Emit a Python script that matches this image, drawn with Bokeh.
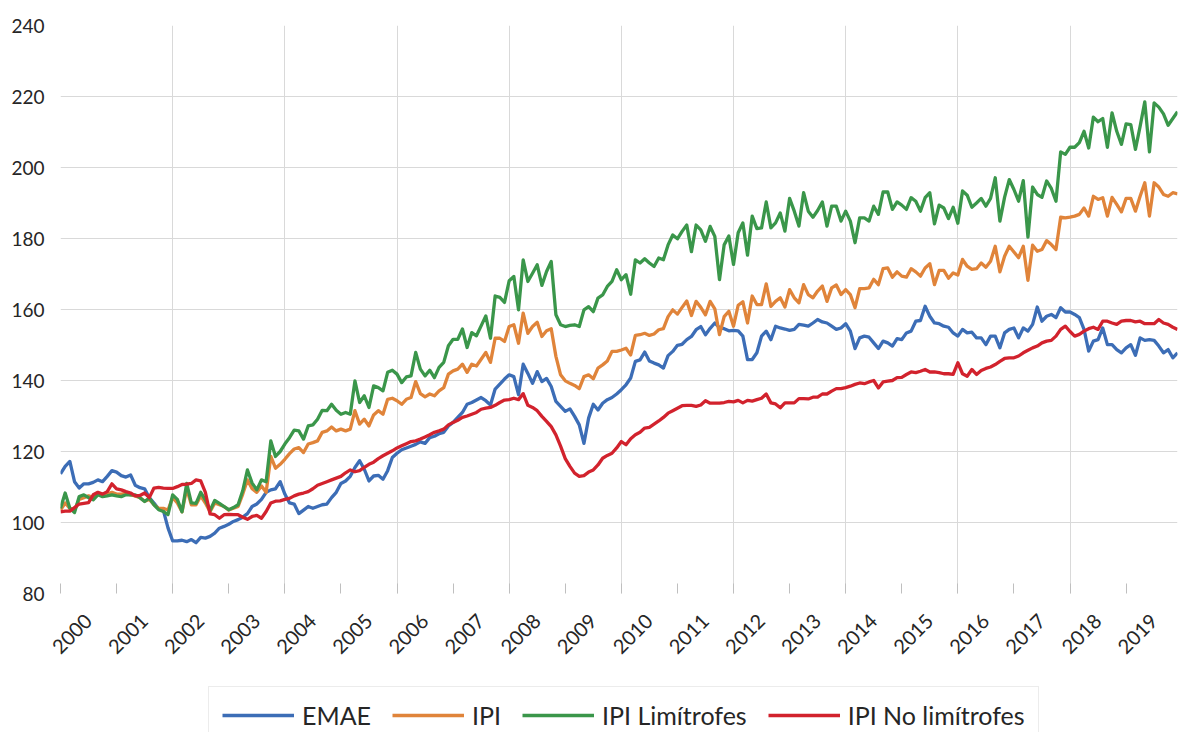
from bokeh.plotting import figure
from bokeh.layouts import column
from bokeh.models import Range1d, FixedTicker, Legend, LegendItem, ColumnDataSource, CustomJSTickFormatter
from bokeh.embed import file_html
from bokeh.resources import INLINE

# ---------------- data (monthly, Jan 2000 - Dec 2019) ----------------
years = list(range(2000, 2020))
series_names = ["EMAE", "IPI", "IPI Limítrofes", "IPI No limítrofes"]

emae = [
    113.7, 115.8, 117.2, 111.5, 109.7, 110.9, 110.9, 111.3, 112.0, 111.5, 113.0, 114.6,
    114.2, 113.2, 112.8, 113.4, 110.5, 109.8, 109.5, 107.0, 105.5, 103.8, 103.4, 98.5,
    94.8, 94.8, 95.0, 94.6, 95.2, 94.3, 95.8, 95.6, 96.1, 97.0, 98.4, 98.9,
    99.5, 100.3, 100.8, 101.5, 102.5, 104.5, 105.2, 106.5, 108.5, 109.2, 109.5, 111.5,
    108.0, 105.5, 105.2, 102.5, 103.5, 104.5, 104.0, 104.5, 105.0, 105.2, 107.0, 108.5,
    111.0, 111.7, 113.0, 115.5, 117.4, 115.0, 111.7, 113.1, 113.3, 112.2, 114.6, 118.3,
    119.5, 120.5, 121.0, 121.5, 122.0, 122.7, 122.3, 123.9, 124.3, 125.0, 125.4, 127.2,
    128.2, 129.6, 131.0, 133.3, 133.8, 134.5, 135.2, 134.3, 133.1, 137.6, 139.0, 140.4,
    141.6, 141.1, 136.0, 144.6, 142.0, 139.2, 142.5, 139.7, 140.6, 138.3, 134.1, 132.7,
    131.3, 132.0, 129.9, 127.5, 122.3, 129.4, 133.3, 131.7, 133.6, 134.6, 135.2, 136.2,
    137.4, 138.8, 140.7, 145.4, 145.8, 148.0, 145.5, 144.9, 144.4, 143.5, 147.0, 148.2,
    149.9, 150.2, 151.5, 152.4, 154.3, 155.2, 152.9, 154.7, 156.2, 154.9, 154.6, 154.0,
    154.1, 154.0, 152.5, 145.9, 145.9, 147.8, 152.5, 153.9, 151.5, 155.3, 154.8, 154.5,
    154.1, 154.4, 155.8, 155.6, 155.3, 156.2, 157.2, 156.5, 156.2, 155.3, 154.4, 154.8,
    156.0, 153.9, 149.0, 152.0, 152.5, 152.2, 150.6, 149.0, 151.1, 150.6, 149.7, 151.8,
    151.5, 153.4, 153.9, 156.7, 156.9, 160.9, 158.1, 156.2, 156.0, 155.3, 155.0, 153.4,
    152.5, 154.4, 153.4, 153.6, 152.0, 152.0, 150.1, 152.5, 152.5, 149.2, 153.4, 154.4,
    154.8, 152.0, 154.8, 153.9, 155.8, 160.7, 156.7, 158.1, 158.6, 157.7, 160.5, 159.3,
    159.3, 158.6, 157.7, 154.4, 148.3, 151.1, 151.5, 154.8, 150.1, 150.1, 148.7, 147.8,
    149.2, 150.1, 147.1, 152.0, 151.3, 151.5, 151.3, 149.7, 147.8, 148.7, 146.4, 147.8,
]

ipi = [
    103.5, 105.5, 104.0, 103.5, 106.5, 107.0, 107.5, 107.0, 108.0, 107.8, 108.0, 108.5,
    108.0, 108.0, 108.2, 107.8, 107.5, 107.0, 106.0, 106.5, 105.0, 104.0, 104.0, 103.5,
    107.0, 105.5, 103.0, 109.5, 105.0, 105.0, 107.5, 105.5, 103.0, 105.5, 105.0, 104.5,
    103.5, 104.0, 104.5, 108.0, 112.0, 109.5, 108.5, 110.3, 108.5, 118.6, 115.3, 116.4,
    117.8, 119.4, 120.7, 121.1, 119.7, 122.1, 122.5, 123.0, 125.4, 125.8, 126.9, 125.8,
    126.3, 125.8, 126.3, 131.5, 127.7, 129.1, 127.2, 130.3, 131.5, 130.5, 134.7, 135.0,
    134.3, 133.3, 134.7, 135.2, 139.7, 136.3, 135.4, 136.2, 135.7, 137.1, 138.0, 141.8,
    142.7, 143.2, 144.6, 142.3, 144.6, 144.1, 146.0, 147.9, 145.1, 151.9, 151.9, 151.0,
    155.2, 155.7, 150.5, 159.0, 153.3, 155.2, 156.4, 152.4, 154.0, 154.6, 146.8, 141.6,
    139.9, 139.2, 138.6, 137.7, 141.1, 141.6, 140.5, 143.5, 144.4, 145.5, 148.2, 148.2,
    148.6, 149.1, 147.2, 152.7, 152.9, 153.3, 152.7, 153.1, 154.3, 154.6, 158.0, 159.9,
    158.7, 160.6, 162.4, 158.3, 162.3, 160.6, 158.5, 162.3, 160.2, 152.9, 158.0, 159.5,
    155.3, 161.2, 162.2, 156.2, 163.8, 161.4, 161.4, 167.2, 160.9, 162.3, 163.3, 160.7,
    165.6, 163.3, 161.9, 167.0, 164.2, 163.3, 165.2, 166.6, 162.3, 166.1, 166.9, 164.2,
    165.6, 164.2, 160.5, 165.9, 165.9, 166.1, 168.5, 167.0, 171.5, 171.7, 169.1, 170.6,
    169.4, 169.1, 171.5, 170.6, 169.4, 171.7, 172.9, 167.0, 171.0, 171.0, 168.8, 170.3,
    169.7, 174.1, 172.2, 171.3, 171.5, 173.1, 171.9, 173.6, 177.8, 170.6, 175.0, 177.8,
    176.2, 174.6, 177.8, 168.2, 178.1, 176.4, 176.9, 179.4, 178.3, 176.9, 186.0, 185.8,
    186.0, 186.3, 186.8, 188.6, 186.3, 191.9, 191.0, 191.5, 186.3, 191.6, 189.6, 187.5,
    191.3, 191.3, 187.7, 191.9, 195.7, 186.3, 195.7, 194.5, 192.4, 191.9, 192.9, 192.6,
]

ipi_limitrofes = [
    104.0, 108.3, 104.0, 102.8, 107.3, 107.8, 107.0, 106.4, 107.8, 107.3, 107.5, 107.8,
    107.5, 107.3, 107.8, 107.8, 107.8, 107.0, 105.9, 106.9, 105.0, 103.6, 103.1, 102.2,
    107.8, 106.5, 103.0, 111.0, 105.5, 105.4, 108.5, 106.4, 103.4, 106.2, 105.4, 104.5,
    103.6, 104.2, 105.0, 109.0, 114.8, 111.1, 109.2, 112.0, 111.5, 123.0, 118.6, 120.0,
    122.1, 123.9, 126.0, 125.8, 123.5, 127.2, 127.5, 129.1, 131.6, 131.5, 133.3, 131.6,
    130.5, 131.0, 130.5, 139.9, 133.8, 135.7, 132.4, 138.5, 138.0, 137.1, 142.3, 142.9,
    141.8, 139.4, 141.0, 141.3, 147.9, 143.2, 141.3, 142.9, 140.8, 143.7, 145.1, 149.8,
    151.6, 151.6, 154.5, 149.3, 153.5, 152.6, 155.4, 158.2, 151.9, 163.8, 163.4, 162.0,
    168.1, 169.3, 159.9, 174.0, 167.9, 170.2, 172.6, 166.8, 170.7, 173.5, 158.5, 155.7,
    155.2, 155.5, 155.7, 155.2, 159.9, 160.8, 159.4, 163.2, 164.1, 166.5, 167.9, 171.2,
    168.4, 169.8, 164.3, 174.0, 173.1, 174.3, 173.1, 172.1, 174.5, 174.0, 178.2, 181.0,
    179.9, 182.0, 183.8, 176.3, 183.8, 182.4, 179.2, 183.4, 180.6, 168.4, 178.2, 180.7,
    172.7, 181.6, 184.4, 175.3, 186.3, 182.8, 183.0, 190.3, 183.0, 184.4, 187.2, 182.1,
    191.3, 187.7, 183.5, 192.9, 187.7, 186.0, 187.9, 190.3, 183.5, 189.1, 189.1, 184.9,
    187.7, 184.9, 178.8, 185.8, 185.8, 184.9, 189.1, 186.8, 193.1, 193.1, 188.2, 190.3,
    189.4, 188.2, 191.5, 190.5, 187.7, 191.5, 192.9, 184.1, 189.4, 188.6, 185.6, 188.8,
    184.3, 193.4, 192.2, 188.8, 190.0, 191.3, 189.1, 191.3, 197.1, 184.9, 191.6, 196.6,
    193.8, 190.5, 196.3, 180.4, 194.5, 192.4, 191.6, 196.2, 194.1, 190.5, 204.4, 203.7,
    205.7, 205.7, 207.0, 210.2, 205.5, 214.2, 212.9, 213.8, 205.7, 215.4, 210.2, 206.5,
    212.3, 212.1, 205.1, 211.6, 218.5, 204.4, 218.2, 217.0, 215.1, 211.9, 213.8, 215.7,
]

ipi_no_limitrofes = [
    103.0, 103.2, 103.2, 104.2, 105.2, 105.4, 105.6, 107.8, 108.5, 108.0, 108.7, 110.9,
    109.5, 109.2, 108.7, 108.3, 107.5, 107.6, 108.3, 107.0, 109.7, 109.9, 109.7, 109.6,
    109.6, 110.1, 110.7, 110.8, 111.0, 112.0, 111.7, 108.5, 102.4, 102.2, 101.2, 102.2,
    102.3, 102.2, 102.2, 101.5, 100.9, 101.7, 102.0, 101.2, 103.1, 105.5, 106.0, 106.1,
    106.5, 106.8, 107.5, 108.0, 108.3, 108.7, 109.5, 110.5, 111.0, 111.5, 112.0, 112.5,
    113.0, 114.0, 114.8, 114.3, 114.6, 115.5, 116.4, 117.0, 118.0, 118.8, 119.5, 120.2,
    121.0, 121.6, 122.2, 122.8, 123.0, 123.5, 124.1, 124.7, 125.4, 125.8, 126.3, 127.5,
    128.2, 128.8, 129.6, 130.0, 130.5, 131.0, 131.9, 132.2, 132.4, 133.0, 133.8, 134.5,
    134.6, 135.0, 134.6, 136.3, 133.0, 132.4, 131.5, 129.9, 128.5, 127.0, 124.7, 121.5,
    118.0, 115.8, 113.9, 113.0, 113.2, 114.2, 114.8, 116.2, 118.1, 118.9, 119.5, 121.0,
    122.8, 121.9, 123.6, 124.7, 125.4, 126.6, 126.8, 127.7, 128.6, 129.6, 130.8, 131.5,
    132.2, 132.9, 133.0, 133.0, 132.7, 133.1, 134.3, 133.6, 133.6, 133.6, 133.8, 134.1,
    134.0, 134.4, 133.7, 134.4, 134.2, 134.6, 135.0, 136.2, 133.7, 133.4, 132.3, 133.7,
    133.7, 133.7, 134.9, 134.9, 134.8, 135.3, 135.3, 136.2, 136.2, 137.0, 137.7, 137.7,
    138.0, 138.4, 138.9, 139.3, 139.1, 139.6, 140.0, 137.9, 139.6, 139.8, 140.0, 140.8,
    140.9, 141.7, 142.4, 142.2, 142.6, 143.1, 142.4, 142.4, 142.2, 141.9, 141.9, 141.7,
    145.0, 141.9, 141.2, 143.1, 141.7, 142.8, 143.4, 143.8, 144.5, 145.4, 146.2, 146.4,
    146.4, 146.9, 147.8, 148.5, 149.2, 149.7, 150.6, 151.1, 151.3, 152.5, 154.4, 155.3,
    153.8, 152.5, 153.0, 153.9, 154.6, 155.0, 154.4, 156.7, 156.7, 156.2, 155.8, 156.7,
    156.9, 156.9, 156.5, 156.7, 156.0, 156.0, 156.0, 157.2, 156.2, 155.8, 155.0, 154.4,
]

y_ticks = [80, 100, 120, 140, 160, 180, 200, 220, 240]

# time axis: one point per month
t = [y + m / 12 for y in years for m in range(12)]

src = ColumnDataSource(dict(t=t, emae=emae, ipi=ipi, lim=ipi_limitrofes, nolim=ipi_no_limitrofes))

FONT = "Lato"
TXT = "#262626"
GRID = "#D9D9D9"
colors = ["#3C6DB6", "#E0843A", "#3A964A", "#D2222D"]
cols = ["emae", "ipi", "lim", "nolim"]

# ---------------- main chart ----------------
p = figure(width=1180, height=682, output_backend="svg", toolbar_location=None,
           x_range=Range1d(2000, 2000 + 239 / 12), y_range=Range1d(80, 240),
           min_border_left=60, min_border_right=3, min_border_top=25, min_border_bottom=89)
p.outline_line_color = None
p.background_fill_color = "white"
p.border_fill_color = "white"

for c, col in zip(colors, cols):
    p.line("t", col, source=src, line_color=c, line_width=3.3, line_join="round")

# y axis
p.yaxis.ticker = FixedTicker(ticks=y_ticks)
p.yaxis.axis_line_color = None
p.yaxis.major_tick_line_color = None
p.yaxis.minor_tick_line_color = None
p.yaxis.major_label_text_font = FONT
p.yaxis.major_label_text_font_size = "19px"
p.yaxis.major_label_text_color = TXT
p.yaxis.major_label_standoff = 10

# x axis: labels near mid-year, small tick marks at each year
lab_off = 0.5
p.xaxis.ticker = FixedTicker(ticks=[y + lab_off for y in years], minor_ticks=years)
p.xaxis.formatter = CustomJSTickFormatter(code="return Math.floor(tick).toString();")
p.xaxis.axis_line_color = None
p.xaxis.major_tick_line_color = None
p.xaxis.minor_tick_line_color = "#BFBFBF"
p.xaxis.minor_tick_in = 10
p.xaxis.minor_tick_out = 0
p.xaxis.major_label_orientation = 0.785398
p.xaxis.major_label_text_font = FONT
p.xaxis.major_label_text_font_size = "20px"
p.xaxis.major_label_text_color = TXT
p.xaxis.major_label_standoff = 18

p.xgrid.ticker = FixedTicker(ticks=[y for y in years if y % 2 == 0 and y > 2000])
p.xgrid.grid_line_color = GRID
p.ygrid.ticker = FixedTicker(ticks=[v for v in y_ticks if 80 < v < 240])
p.ygrid.grid_line_color = GRID

# ---------------- legend strip (bottom, cut by the window edge) ----------------
# the legend's sample lines reuse the same series, kept out of this strip's view
pl = figure(width=1180, height=50, output_backend="svg", toolbar_location=None,
            x_range=Range1d(0, 1), y_range=Range1d(0, 1),
            x_axis_location=None, y_axis_location=None, min_border=0)
pl.outline_line_color = None
pl.grid.visible = False
pl.background_fill_color = "white"
pl.border_fill_color = "white"
proxies = [pl.line("t", col, source=src, line_color=c, line_width=3.3) for c, col in zip(colors, cols)]

legend = Legend(items=[LegendItem(label=n, renderers=[r]) for n, r in zip(series_names, proxies)],
                orientation="horizontal", location=(148, -12))
legend.label_text_font = FONT
legend.label_text_font_size = "25px"
legend.label_text_color = TXT
legend.glyph_width = 72
legend.glyph_height = 20
legend.label_standoff = 8
legend.spacing = 21
legend.padding = 13
legend.margin = 0
legend.border_line_color = GRID
legend.border_line_width = 1
legend.background_fill_color = "white"
legend.background_fill_alpha = 1
pl.add_layout(legend, "center")

layout = column(p, pl, spacing=0)
open("out.html", "w").write(file_html(layout, INLINE))
